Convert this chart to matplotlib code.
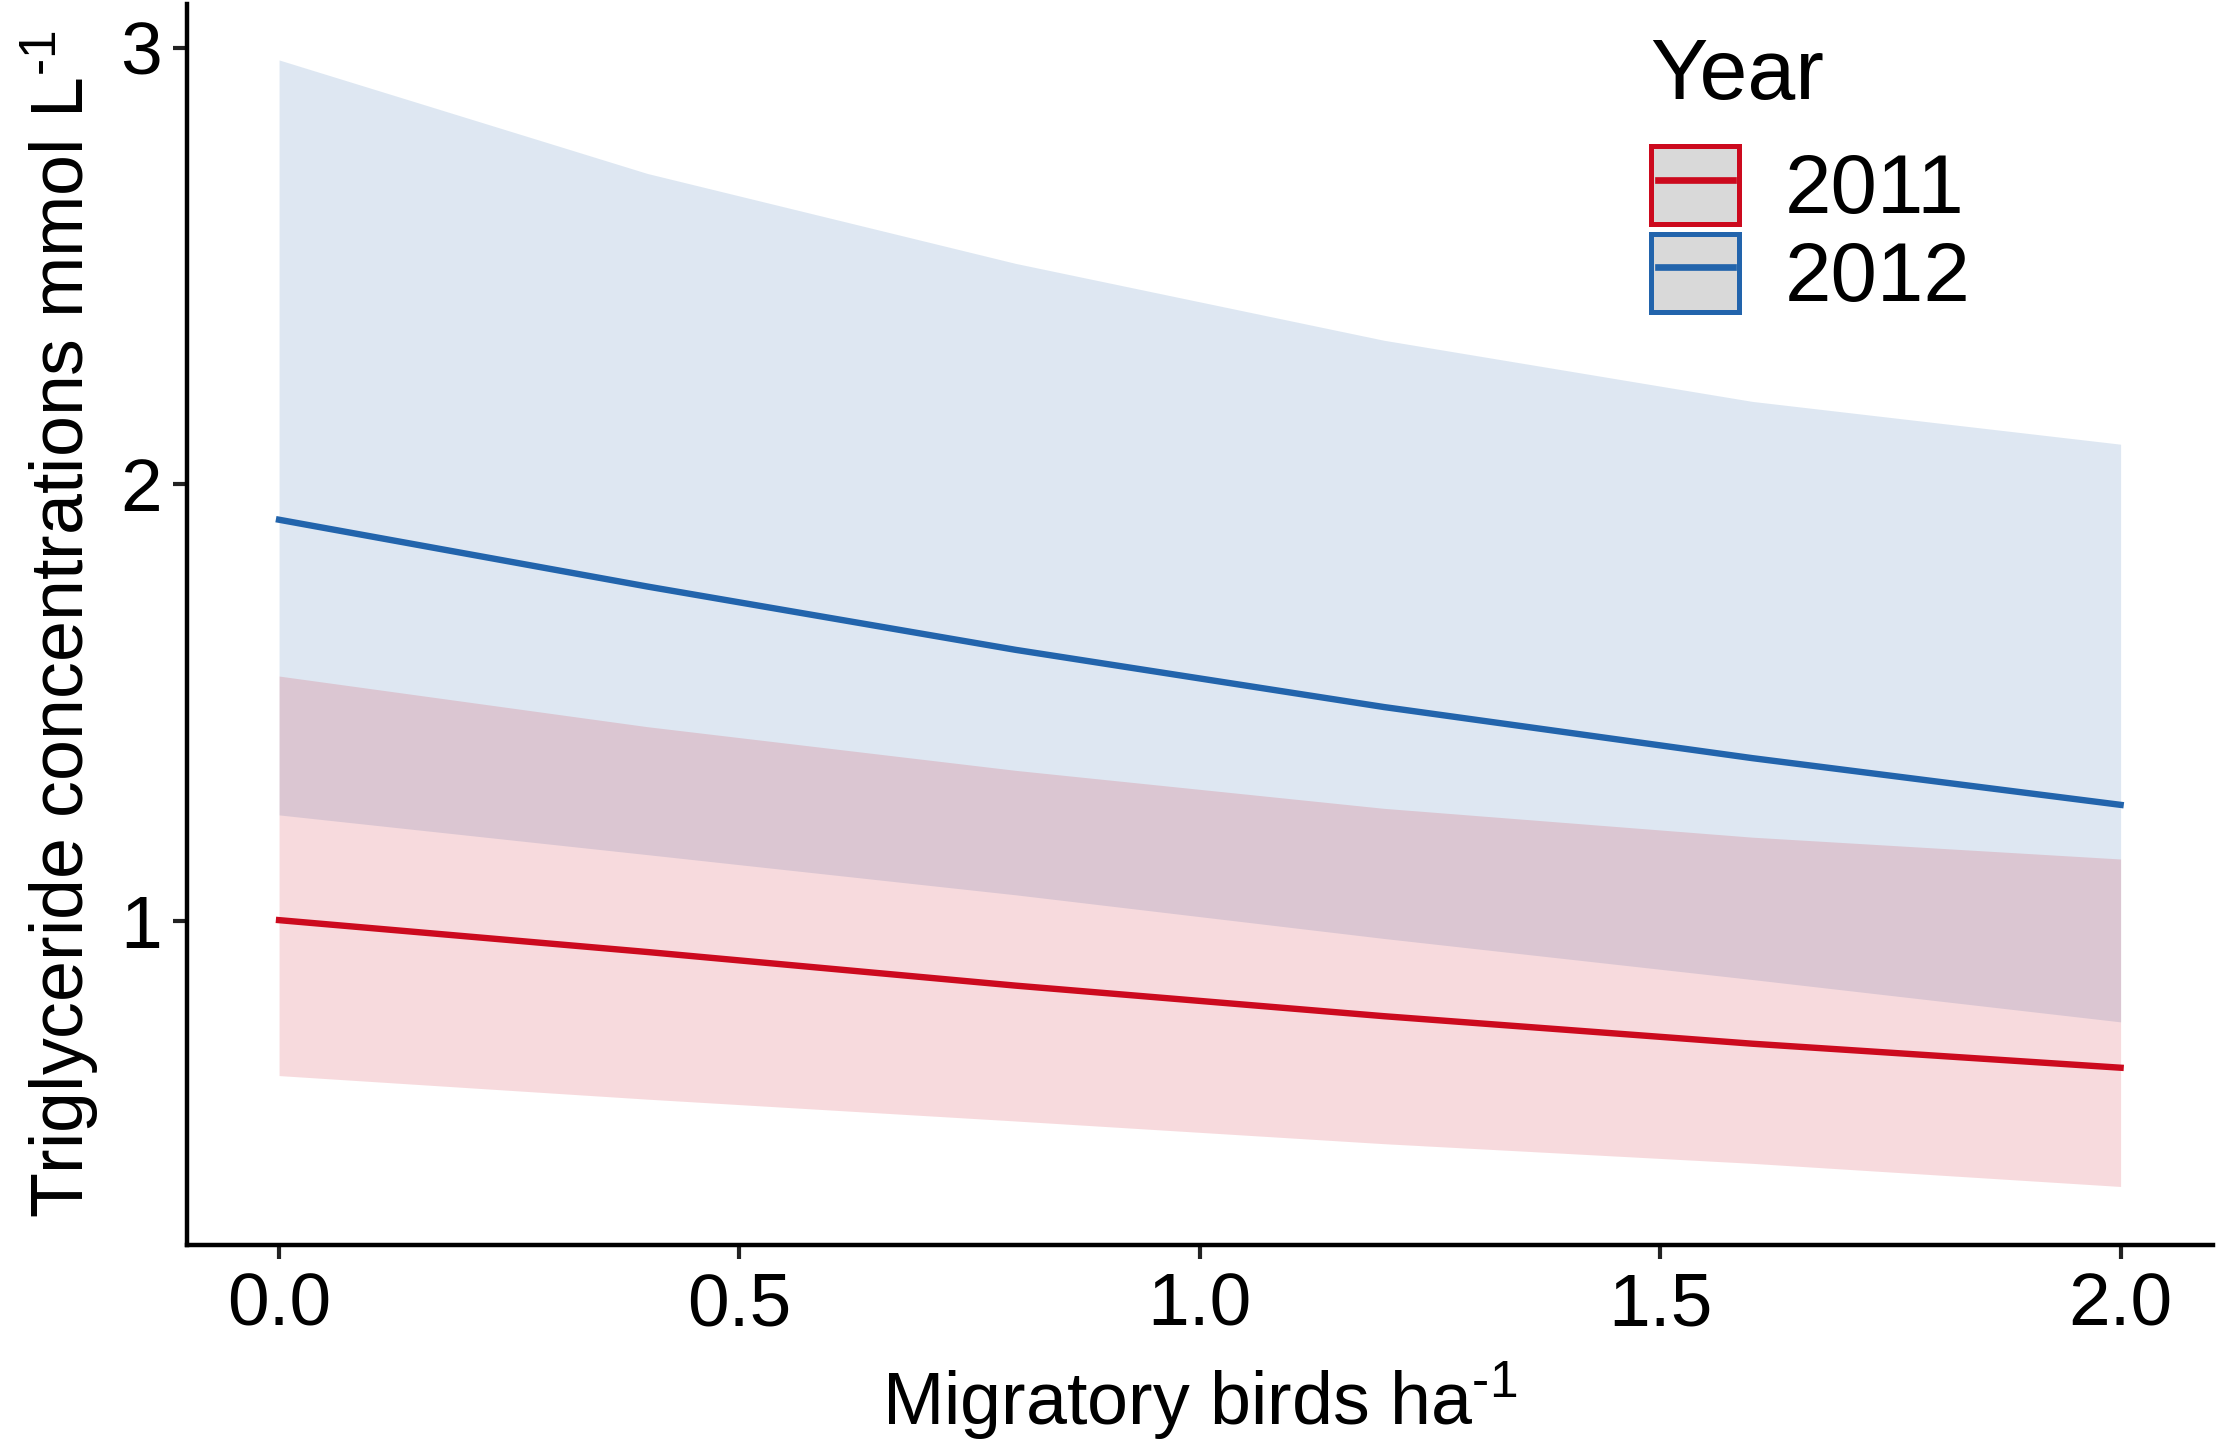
import matplotlib
matplotlib.use('Agg')
import matplotlib.pyplot as plt
from matplotlib.patches import Patch
from matplotlib.lines import Line2D
from matplotlib.legend_handler import HandlerLine2D

plt.rcParams['font.family'] = ['Liberation Sans', 'DejaVu Sans']
plt.rcParams['mathtext.fontset'] = 'custom'
plt.rcParams['mathtext.rm'] = 'Liberation Sans'
plt.rcParams['mathtext.it'] = 'Liberation Sans:italic'

# values
x = [0.0, 0.4, 0.8, 1.2, 1.6, 2.0]

fit_2011 = [1.002, 0.929, 0.852, 0.782, 0.719, 0.664]
low_2011 = [0.646, 0.592, 0.542, 0.490, 0.445, 0.392]
high_2011 = [1.561, 1.445, 1.345, 1.258, 1.192, 1.142]

fit_2012 = [1.919, 1.766, 1.621, 1.490, 1.373, 1.266]
low_2012 = [1.243, 1.152, 1.060, 0.960, 0.866, 0.769]
high_2012 = [2.972, 2.712, 2.506, 2.330, 2.190, 2.092]

years = ['2011', '2012']
col_red = '#CC0A1E'
col_blue = '#2264AC'

x_ticks = [0.0, 0.5, 1.0, 1.5, 2.0]
x_ticklabels = ['0.0', '0.5', '1.0', '1.5', '2.0']
y_ticks = [1, 2, 3]

fig = plt.figure(figsize=(22.18, 14.47), dpi=100)
ax = fig.add_axes([0.0843, 0.1396, 0.9133, 0.8576])

ax.fill_between(x, low_2012, high_2012, color=col_blue, alpha=0.15, lw=0)
ax.fill_between(x, low_2011, high_2011, color=col_red, alpha=0.15, lw=0)
ax.plot(x, fit_2012, color=col_blue, lw=4.6)
ax.plot(x, fit_2011, color=col_red, lw=4.6)

ax.set_xlim(-0.1, 2.1)
ax.set_ylim(0.258, 3.1)
ax.set_xticks(x_ticks)
ax.set_xticklabels(x_ticklabels)
ax.set_yticks(y_ticks)

for s in ['top', 'right']:
    ax.spines[s].set_visible(False)
for s in ['left', 'bottom']:
    ax.spines[s].set_linewidth(3.2)
ax.tick_params(width=3, length=10, labelsize=54, color='#222222')
ax.tick_params(axis='x', pad=9)
ax.tick_params(axis='y', pad=8)

sup = '$^{\\mathregular{\u20101}}$'
ax.set_xlabel('Migratory birds ha' + sup, fontsize=53, labelpad=14)
ax.set_ylabel('Triglyceride concentrations mmol L' + sup, fontsize=53, labelpad=14)

# legend: title drawn apart so the gap to the keys matches
fig.text(1650 / 2218, 1 - 99 / 1447, 'Year', fontsize=62, va='baseline', ha='left')
handles = [
    (Patch(facecolor='#D9D9D9', edgecolor=col_red, lw=3.6), Line2D([], [], color=col_red, lw=4.8)),
    (Patch(facecolor='#D9D9D9', edgecolor=col_blue, lw=3.6), Line2D([], [], color=col_blue, lw=4.8)),
]
leg = ax.legend(handles, years, loc='upper left',
                bbox_to_anchor=(1651 / 2218, 1 - 146 / 1447), bbox_transform=fig.transFigure,
                frameon=False, fontsize=60,
                handlelength=1.06, handleheight=1.06, handletextpad=0.55,
                labelspacing=0.04, borderpad=0, borderaxespad=0,
                handler_map={Line2D: HandlerLine2D(marker_pad=0.08, numpoints=2)})

fig.savefig('out.png', dpi=100)
